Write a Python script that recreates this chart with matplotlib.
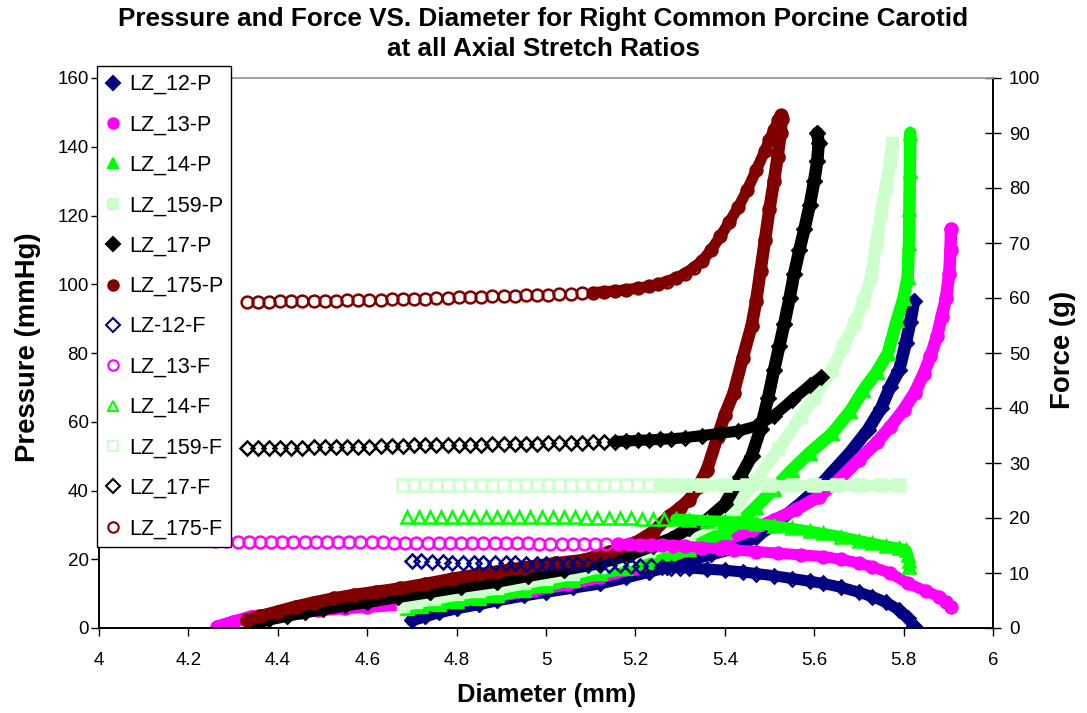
import matplotlib
matplotlib.use('Agg')
import matplotlib.pyplot as plt
from matplotlib.lines import Line2D

plt.rcParams['font.family'] = ['Liberation Sans', 'DejaVu Sans']

# ---------------- data ----------------
x_ticks = [4.0, 4.2, 4.4, 4.6, 4.8, 5.0, 5.2, 5.4, 5.6, 5.8, 6.0]
x_tick_labels = ['4', '4.2', '4.4', '4.6', '4.8', '5', '5.2', '5.4', '5.6', '5.8', '6']
p_ticks = [0, 20, 40, 60, 80, 100, 120, 140, 160]
f_ticks = [0, 10, 20, 30, 40, 50, 60, 70, 80, 90, 100]

# Pressure series (mmHg) vs diameter (mm)
lz12_p_x = [4.70, 4.73, 4.76, 4.80, 4.85, 4.89, 4.95, 5.00, 5.06, 5.12, 5.18, 5.23, 5.27, 5.32, 5.37,
            5.42, 5.47, 5.52, 5.57, 5.61, 5.645, 5.68, 5.72, 5.75, 5.77, 5.79, 5.805, 5.815, 5.823]
lz12_p_y = [2.3, 3.5, 4.6, 5.8, 7.0, 8.1, 9.5, 10.6, 11.8, 13.0, 14.8, 16.4, 17.8, 19.8, 21.5,
            23.2, 26.6, 31.0, 36.3, 41.0, 46.0, 51.0, 57.6, 64.0, 70.2, 75.0, 83.0, 89.0, 95.0]

lz13_p_x = [4.264, 4.30, 4.34, 4.40, 4.45, 4.49, 4.55, 4.60, 4.68, 4.75, 4.82, 4.90, 4.97, 5.05, 5.12,
            5.20, 5.28, 5.34, 5.40, 5.46, 5.51, 5.56, 5.61, 5.65, 5.70, 5.74, 5.77, 5.80, 5.825, 5.845,
            5.86, 5.875, 5.885, 5.895, 5.902, 5.905, 5.906]
lz13_p_y = [0.4, 1.8, 3.3, 4.2, 4.8, 5.2, 5.8, 6.2, 6.9, 7.6, 8.4, 9.5, 11.0, 12.8, 14.8,
            17.5, 21.0, 23.5, 25.6, 28.5, 31.4, 34.5, 38.2, 42.5, 49.0, 54.0, 58.5, 63.5, 68.5, 74.0,
            79.0, 85.0, 90.6, 96.0, 103.0, 110.0, 116.0]

lz14_p_x = [4.69, 4.72, 4.76, 4.80, 4.85, 4.89, 4.95, 5.00, 5.06, 5.12, 5.18, 5.23, 5.27, 5.32, 5.36,
            5.40, 5.44, 5.47, 5.51, 5.55, 5.59, 5.64, 5.68, 5.71, 5.74, 5.765, 5.785, 5.80, 5.809,
            5.812, 5.813, 5.814, 5.815]
lz14_p_y = [5.7, 6.3, 7.0, 7.8, 8.7, 9.5, 11.0, 12.5, 14.0, 15.9, 17.5, 19.2, 20.5, 23.0, 25.5,
            28.0, 31.5, 35.3, 40.5, 46.0, 51.0, 56.6, 63.0, 69.2, 74.5, 80.0, 89.6, 96.0, 102.0,
            112.0, 122.0, 133.0, 144.0]

lz159_p_x = [4.68, 4.71, 4.75, 4.80, 4.85, 4.89, 4.95, 5.00, 5.06, 5.12, 5.18, 5.23, 5.27, 5.32, 5.37,
             5.42, 5.47, 5.52, 5.57, 5.60, 5.64, 5.665, 5.69, 5.71, 5.727, 5.74, 5.75, 5.76, 5.77, 5.775]
lz159_p_y = [6.5, 7.5, 8.5, 9.8, 10.8, 11.5, 13.0, 14.3, 15.8, 17.8, 20.0, 22.3, 24.2, 27.0, 30.5,
             34.5, 43.0, 52.0, 61.5, 67.0, 75.0, 82.0, 88.5, 95.0, 102.0, 113.0, 121.0, 128.0, 136.0, 141.0]

lz17_p_x = [4.35, 4.38, 4.42, 4.46, 4.50, 4.55, 4.60, 4.67, 4.74, 4.81, 4.89, 4.96, 5.04, 5.12, 5.19,
            5.24, 5.28, 5.32, 5.36, 5.40, 5.435, 5.46, 5.48, 5.497, 5.51, 5.522, 5.533, 5.545, 5.555,
            5.567, 5.578, 5.59, 5.60, 5.607, 5.61, 5.607]
lz17_p_y = [1.5, 2.5, 3.6, 4.6, 5.5, 6.6, 7.6, 9.1, 10.5, 12.0, 13.5, 15.2, 17.0, 18.9, 21.5,
            24.0, 26.0, 29.0, 31.5, 36.0, 44.0, 50.0, 58.0, 67.0, 75.0, 82.0, 88.5, 96.0, 103.0,
            110.0, 116.0, 123.0, 130.0, 136.0, 141.0, 144.0]

lz175_p_x = [4.33, 4.36, 4.40, 4.44, 4.48, 4.525, 4.57, 4.62, 4.674, 4.73, 4.79, 4.85, 4.891, 4.95,
             5.02, 5.085, 5.14, 5.197, 5.24, 5.275, 5.30, 5.32, 5.34, 5.36, 5.384, 5.40, 5.42, 5.44,
             5.46, 5.47, 5.48, 5.49, 5.50, 5.51, 5.518, 5.525, 5.527]
lz175_p_y = [2.3, 3.4, 4.8, 6.2, 7.4, 8.6, 9.6, 10.5, 11.5, 12.8, 14.3, 15.6, 16.4, 17.6,
             18.8, 19.8, 22.0, 24.6, 28.0, 32.5, 35.0, 37.3, 41.0, 46.0, 55.7, 62.0, 68.5, 78.5,
             88.0, 95.0, 104.0, 113.0, 122.0, 130.0, 137.0, 144.0, 148.0]

# Force series (g) vs diameter (mm)
lz12_f_x = [4.70, 4.72, 4.745, 4.77, 4.79, 4.815, 4.84, 4.86, 4.885, 4.91, 4.93, 4.955, 4.98, 5.00,
            5.025, 5.05, 5.07, 5.095, 5.12, 5.14, 5.165, 5.19, 5.21, 5.235, 5.26, 5.28, 5.30, 5.32,
            5.36, 5.40, 5.44, 5.47, 5.51, 5.55, 5.59, 5.62, 5.66, 5.70, 5.73, 5.76, 5.79, 5.81, 5.824]
lz12_f_y = [12.1, 12.1, 12.0, 12.0, 11.9, 11.9, 11.9, 11.8, 11.8, 11.8, 11.8, 11.7, 11.7, 11.7,
            11.6, 11.6, 11.6, 11.5, 11.5, 11.4, 11.4, 11.3, 11.3, 11.2, 11.1, 11.0, 11.0, 10.9,
            10.7, 10.5, 10.2, 9.9, 9.5, 9.0, 8.5, 8.1, 7.4, 6.5, 5.7, 4.7, 3.3, 1.8, 0.3]

lz13_f_x = [4.26, 4.285, 4.31, 4.335, 4.36, 4.385, 4.41, 4.435, 4.46, 4.485, 4.51, 4.535, 4.56, 4.585,
            4.61, 4.635, 4.66, 4.685, 4.71, 4.735, 4.76, 4.785, 4.81, 4.835, 4.86, 4.885, 4.91, 4.935,
            4.96, 4.985, 5.01, 5.035, 5.06, 5.085, 5.11, 5.135, 5.16, 5.185, 5.21, 5.235, 5.26, 5.285,
            5.31, 5.35, 5.39, 5.42, 5.47, 5.52, 5.57, 5.62, 5.66, 5.70, 5.73, 5.77, 5.81, 5.85, 5.88,
            5.895, 5.906]
lz13_f_y = [15.8, 15.8, 15.7, 15.7, 15.7, 15.7, 15.7, 15.7, 15.6, 15.6, 15.6, 15.6, 15.6, 15.6,
            15.6, 15.6, 15.5, 15.5, 15.5, 15.5, 15.5, 15.5, 15.4, 15.4, 15.4, 15.4, 15.4, 15.4,
            15.4, 15.3, 15.3, 15.3, 15.3, 15.3, 15.2, 15.2, 15.2, 15.2, 15.1, 15.1, 15.1, 15.0,
            14.9, 14.6, 14.4, 14.2, 13.9, 13.6, 13.3, 13.0, 12.5, 11.8, 11.1, 10.0, 8.1, 6.7, 5.7,
            4.8, 3.9]

lz14_f_x = [4.69, 4.715, 4.74, 4.765, 4.79, 4.815, 4.84, 4.865, 4.89, 4.915, 4.94, 4.965, 4.99, 5.015,
            5.04, 5.065, 5.09, 5.115, 5.14, 5.165, 5.19, 5.215, 5.24, 5.265, 5.29, 5.32, 5.36, 5.40,
            5.44, 5.47, 5.51, 5.55, 5.59, 5.62, 5.66, 5.70, 5.73, 5.76, 5.79, 5.805, 5.81, 5.812, 5.813]
lz14_f_y = [20.2, 20.2, 20.2, 20.2, 20.2, 20.2, 20.2, 20.2, 20.2, 20.2, 20.1, 20.1, 20.1, 20.1,
            20.1, 20.1, 20.0, 20.0, 20.0, 20.0, 20.0, 19.9, 19.9, 19.9, 19.8, 19.7, 19.5, 19.4,
            19.2, 19.0, 18.6, 18.1, 17.6, 17.2, 16.6, 15.9, 15.4, 14.9, 14.5, 14.2, 13.2, 12.2, 11.1]

lz159_f_x = [4.68, 4.705, 4.73, 4.755, 4.78, 4.805, 4.83, 4.855, 4.88, 4.905, 4.93, 4.955, 4.98,
             5.005, 5.03, 5.055, 5.08, 5.105, 5.13, 5.155, 5.18, 5.205, 5.23, 5.255, 5.28, 5.31,
             5.35, 5.40, 5.45, 5.50, 5.55, 5.60, 5.65, 5.70, 5.75, 5.79]
lz159_f_y = [26.0, 26.0, 26.0, 26.0, 26.0, 26.0, 26.0, 26.0, 26.0, 26.0, 26.0, 26.0, 26.0,
             26.0, 26.0, 26.0, 26.0, 26.0, 26.0, 26.0, 26.0, 26.0, 26.0, 26.0, 26.0, 26.0,
             26.0, 26.0, 26.0, 26.0, 26.0, 26.0, 26.0, 26.0, 26.0, 26.0]

lz17_f_x = [4.33, 4.355, 4.38, 4.405, 4.43, 4.455, 4.48, 4.505, 4.53, 4.555, 4.58, 4.605, 4.63, 4.655,
            4.68, 4.705, 4.73, 4.755, 4.78, 4.805, 4.83, 4.855, 4.88, 4.905, 4.93, 4.955, 4.98, 5.005,
            5.03, 5.055, 5.08, 5.105, 5.13, 5.155, 5.18, 5.205, 5.23, 5.255, 5.28, 5.31, 5.35, 5.39,
            5.43, 5.47, 5.51, 5.55, 5.59, 5.615]
lz17_f_y = [32.7, 32.7, 32.7, 32.8, 32.8, 32.8, 32.9, 32.9, 32.9, 33.0, 33.0, 33.0, 33.1, 33.1,
            33.1, 33.2, 33.2, 33.2, 33.2, 33.3, 33.3, 33.3, 33.4, 33.4, 33.5, 33.5, 33.5, 33.6,
            33.6, 33.7, 33.7, 33.8, 33.8, 33.9, 34.0, 34.1, 34.2, 34.3, 34.4, 34.6, 35.0, 35.4,
            35.8, 36.7, 38.6, 41.4, 44.1, 45.6]

lz175_f_x = [4.33, 4.355, 4.38, 4.405, 4.43, 4.455, 4.48, 4.505, 4.53, 4.555, 4.58, 4.605, 4.63,
             4.655, 4.68, 4.705, 4.73, 4.755, 4.78, 4.805, 4.83, 4.855, 4.88, 4.905, 4.93, 4.955,
             4.98, 5.005, 5.03, 5.055, 5.08, 5.105, 5.13, 5.155, 5.18, 5.205, 5.23, 5.25, 5.27,
             5.29, 5.31, 5.33, 5.35, 5.37, 5.39, 5.41, 5.43, 5.45, 5.47, 5.49, 5.50, 5.51, 5.52, 5.525]
lz175_f_y = [59.3, 59.3, 59.3, 59.4, 59.4, 59.4, 59.5, 59.5, 59.5, 59.6, 59.6, 59.7, 59.7,
             59.8, 59.8, 59.9, 59.9, 60.0, 60.0, 60.1, 60.1, 60.2, 60.3, 60.3, 60.4, 60.5,
             60.5, 60.6, 60.7, 60.8, 60.9, 61.0, 61.1, 61.3, 61.5, 61.8, 62.1, 62.5, 63.0,
             63.6, 64.4, 65.5, 66.8, 68.8, 71.2, 73.8, 76.5, 79.6, 83.2, 86.8, 88.8, 90.6, 92.3, 93.2]

labels = ['LZ_12-P', 'LZ_13-P', 'LZ_14-P', 'LZ_159-P', 'LZ_17-P', 'LZ_175-P',
          'LZ-12-F', 'LZ_13-F', 'LZ_14-F', 'LZ_159-F', 'LZ_17-F', 'LZ_175-F']

# ---------------- styles ----------------
colors = ['#000080', '#FF00FF', '#00FF00', '#CCFFCC', '#000000', '#800000']
markers = ['D', 'o', '^', 's', 'D', 'o']
p_ms = [8, 9.5, 9.5, 8.5, 8, 9.5]
f_ms = [7, 8.5, 8.5, 8, 7, 8.5]
p_series = [(lz12_p_x, lz12_p_y), (lz13_p_x, lz13_p_y), (lz14_p_x, lz14_p_y),
            (lz159_p_x, lz159_p_y), (lz17_p_x, lz17_p_y), (lz175_p_x, lz175_p_y)]
f_series = [(lz12_f_x, lz12_f_y), (lz13_f_x, lz13_f_y), (lz14_f_x, lz14_f_y),
            (lz159_f_x, lz159_f_y), (lz17_f_x, lz17_f_y), (lz175_f_x, lz175_f_y)]
dense_from = [5.26, 5.16, 5.27, 5.25, 5.15, 5.10]   # where markers merge into a band

W, H = 1087, 713
fig = plt.figure(figsize=(W / 100, H / 100), dpi=100)
L, R, T, B = 99, 993, 78, 628
ax = fig.add_axes([L / W, 1 - B / H, (R - L) / W, (B - T) / H])
ax2 = ax.twinx()

for i, (xs, ys) in enumerate(p_series):
    c = colors[i]
    ax.plot(xs, ys, color=c, lw=9, solid_capstyle='round', solid_joinstyle='round',
            marker=markers[i], ms=p_ms[i], mfc=c, mec=c, zorder=2 + i)

for i, (xs, ys) in enumerate(f_series):
    c = colors[i]
    dx = [x for x in xs if x >= dense_from[i]]
    dy = [y for x, y in zip(xs, ys) if x >= dense_from[i]]
    ax2.plot(dx, dy, color=c, lw=8, solid_capstyle='round', solid_joinstyle='round', zorder=2 + i)
    ax2.plot(xs, ys, ls='none', marker=markers[i], ms=f_ms[i], mfc='none', mec=c, mew=1.8, zorder=2 + i)

ax.set_xlim(4, 6)
ax.set_ylim(0, 160)
ax2.set_ylim(0, 100)
ax.set_xticks(x_ticks)
ax.set_xticklabels(x_tick_labels)
ax.set_yticks(p_ticks)
ax2.set_yticks(f_ticks)

ax.tick_params(axis='x', direction='out', length=6, width=1, labelsize=13.5, pad=11)
ax.tick_params(axis='y', direction='out', length=6, width=1, labelsize=13.5, pad=1.5)
ax2.tick_params(axis='y', direction='inout', length=11, width=1, labelsize=13.5, pad=6)

for a in (ax, ax2):
    for s in ('left', 'bottom', 'right'):
        a.spines[s].set_color('black')
        a.spines[s].set_linewidth(1.2)
    a.spines['top'].set_color('#a0a0a0')
    a.spines['top'].set_linewidth(1.2)
    a.set_facecolor('none')

# titles and axis labels
fig.text(543.5 / W, 1 - 19 / H, 'Pressure and Force VS. Diameter for Right Common Porcine Carotid',
         ha='center', va='center', fontsize=18.8, fontweight='bold')
fig.text(543.5 / W, 1 - 49 / H, 'at all Axial Stretch Ratios',
         ha='center', va='center', fontsize=18.8, fontweight='bold')
fig.text(547 / W, 1 - 695 / H, 'Diameter (mm)', ha='center', va='center', fontsize=18.4, fontweight='bold')
fig.text(28 / W, 1 - 347 / H, 'Pressure (mmHg)', ha='center', va='center', rotation=90,
         fontsize=19.8, fontweight='bold')
fig.text(1063 / W, 1 - 350 / H, 'Force (g)', ha='center', va='center', rotation=90,
         fontsize=19.8, fontweight='bold')

# legend
handles = []
for i in range(12):
    c = colors[i % 6]
    filled = i < 6
    handles.append(Line2D([], [], ls='none', marker=markers[i % 6], ms=7.5, color=c,
                          mfc=c if filled else 'none', mec=c, mew=1.5))
leg = fig.legend(handles, labels, loc='upper left', bbox_to_anchor=(97 / W, 1 - 66 / H),
                 bbox_transform=fig.transFigure, frameon=True, fancybox=False, shadow=False,
                 edgecolor='black', facecolor='white', framealpha=1, fontsize=15.5,
                 labelspacing=0.9, handlelength=0.7, handletextpad=0.4, borderpad=0.38,
                 borderaxespad=0, numpoints=1)
leg.get_frame().set_linewidth(1.0)

fig.savefig('out.png', dpi=100)
